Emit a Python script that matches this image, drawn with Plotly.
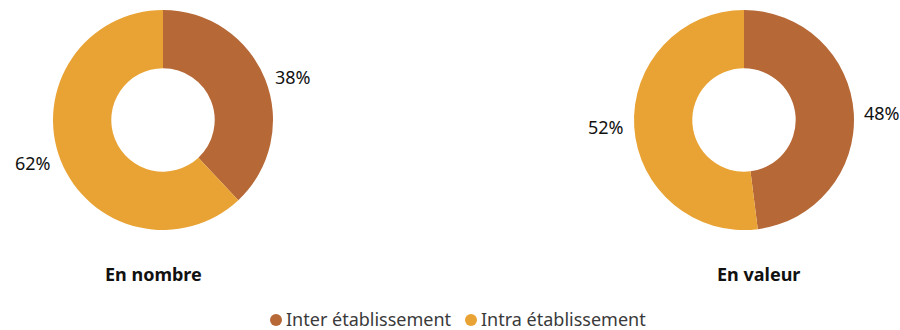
import math
import plotly.graph_objects as go

# Categories and shares (%)
categories = ["Inter établissement", "Intra établissement"]
en_nombre = [38, 62]
en_valeur = [48, 52]
titles = ["En nombre", "En valeur"]
colors = ["#B66836", "#E9A334"]

FONT = "Noto Sans"
W, H = 900, 330
R = 110            # outer radius in px
CY = 120           # donut centre (px from top)
centres_x = [163, 744]

fig = go.Figure()

for vals, cx in zip([en_nombre, en_valeur], centres_x):
    fig.add_trace(go.Pie(
        labels=categories,
        values=vals,
        hole=0.47,
        sort=False,
        direction="clockwise",
        rotation=0,
        marker=dict(colors=colors, line=dict(width=0)),
        textinfo="none",
        showlegend=False,
        hoverinfo="label+percent",
        domain=dict(x=[(cx - R) / W, (cx + R) / W],
                    y=[(H - CY - R) / H, (H - CY + R) / H]),
    ))

    # Percentage labels just outside each slice, at its mid-angle
    total = sum(vals)
    start = 0.0
    for v in vals:
        mid = (start + v / 2) / total * 2 * math.pi
        start += v
        rr = R + 8
        px = cx + rr * math.sin(mid)
        py = CY - rr * math.cos(mid)
        fig.add_annotation(
            x=px / W, y=(H - py) / H, xref="paper", yref="paper",
            text=f"{round(v / total * 100)}%", showarrow=False,
            font=dict(family=FONT, size=18, color="#111111"),
            xanchor="left" if math.sin(mid) >= 0 else "right",
            yanchor="middle",
        )

# Chart titles under each donut
for txt, xc in zip(titles, [153, 758]):
    fig.add_annotation(
        x=xc / W, y=(H - 274) / H, xref="paper", yref="paper",
        text=f"<b>{txt}</b>", showarrow=False,
        font=dict(family=FONT, size=18, color="#111111"),
        xanchor="center", yanchor="middle",
    )

# Legend: round swatch followed by its label
legend_x = [276, 471]
for name, col, lx in zip(categories, colors, legend_x):
    fig.add_shape(
        type="circle", xref="paper", yref="paper",
        x0=(lx - 6) / W, x1=(lx + 6) / W,
        y0=(H - 320 - 6) / H, y1=(H - 320 + 6) / H,
        fillcolor=col, line=dict(width=0),
    )
    fig.add_annotation(
        x=(lx + 8) / W, y=(H - 319) / H, xref="paper", yref="paper",
        text=name, showarrow=False,
        font=dict(family=FONT, size=18, color="#3a3a3a"),
        xanchor="left", yanchor="middle",
    )

fig.update_layout(
    width=W, height=H,
    margin=dict(l=0, r=0, t=0, b=0),
    paper_bgcolor="white", plot_bgcolor="white",
    showlegend=False,
)

fig.write_html("out.html")
